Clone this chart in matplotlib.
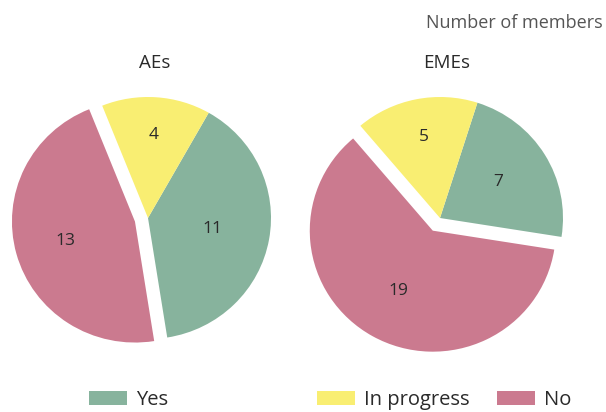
import numpy as np
import matplotlib
matplotlib.use("Agg")
import matplotlib.pyplot as plt
from matplotlib.patches import Patch

plt.rcParams['font.family'] = ['Open Sans', 'DejaVu Sans']

categories = ["Yes", "In progress", "No"]
groups = ["AEs", "EMEs"]
aes_values = [11, 4, 13]
emes_values = [7, 5, 19]
colors = ["#87b39d", "#f9ee72", "#cb7a8f"]

W, H = 606, 412
fig = plt.figure(figsize=(W / 100, H / 100), dpi=100)

RX, RY = 123, 121  # pie radii in px (slightly wide, as in the reference)
lim = 1.3
bw, bh = 2 * lim * RX, 2 * lim * RY

def add_pie(cx, cy, values, start, explode_no, label_dist, title, tx):
    ax = fig.add_axes([(cx - bw / 2) / W, (H - cy - bh / 2) / H, bw / W, bh / H])
    wedges, _ = ax.pie(values, colors=colors, startangle=start, counterclock=True,
                       explode=[0, 0, explode_no], radius=1,
                       wedgeprops=dict(linewidth=0))
    for w, v, d in zip(wedges, values, label_dist):
        mid = np.deg2rad((w.theta1 + w.theta2) / 2)
        x0, y0 = w.center
        ax.text(x0 + d * np.cos(mid), y0 + d * np.sin(mid), str(v),
                ha="center", va="center", fontsize=12.5, color="#2a2a2a")
    ax.set_xlim(-lim, lim)
    ax.set_ylim(-lim, lim)
    ax.set_aspect("auto")
    ax.axis("off")
    fig.text(tx / W, 1 - 63 / H, title, ha="center", va="center",
             fontsize=13.5, color="#2a2a2a")

add_pie(148, 218, aes_values, -81, 0.11, [0.53, 0.69, 0.59], groups[0], 155)
add_pie(440, 218, emes_values, -9, 0.12, [0.56, 0.68, 0.57], groups[1], 447)

fig.text(603 / W, 1 - 23 / H, "Number of members", ha="right", va="center",
         fontsize=13, color="#555555")

handles = [Patch(facecolor=c, edgecolor="none") for c in colors]
leg_kw = dict(frameon=False, fontsize=14.5, handlelength=1.9, handleheight=0.65,
              handletextpad=0.45, borderpad=0, borderaxespad=0, labelcolor="#2a2a2a")
fig.legend(handles[:1], categories[:1], loc="center left",
           bbox_to_anchor=(89 / W, 1 - 400 / H), **leg_kw)
fig.legend(handles[1:], categories[1:], loc="center left", ncol=2, columnspacing=1.35,
           bbox_to_anchor=(317 / W, 1 - 400 / H), **leg_kw)

fig.savefig("out.png", dpi=100, facecolor="white")
